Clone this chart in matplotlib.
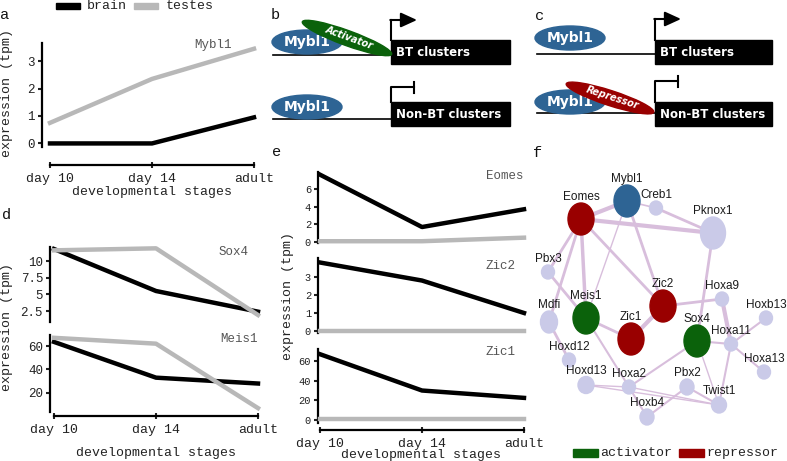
import matplotlib
matplotlib.use('Agg')
import matplotlib.pyplot as plt
from matplotlib.patches import Ellipse, Rectangle, FancyArrowPatch

plt.rcParams['font.family'] = ['Liberation Mono', 'DejaVu Sans Mono']

W, H = 787, 461
BRAIN = '#000000'
TESTES = '#b8b8b8'
BLUE = '#2e6494'
RED = '#990000'
GREEN = '#0b620b'
LAV = '#cacae8'
EDGE = '#d8bedc'

# ---- data ----
stages = ['day 10', 'day 14', 'adult']
mybl1_brain = [0.0, 0.0, 0.95]
mybl1_testes = [0.75, 2.35, 3.45]
sox4_brain = [11.8, 5.5, 2.4]
sox4_testes = [11.6, 11.9, 1.9]
meis1_brain = [63.5, 33, 28]
meis1_testes = [67, 62, 7]
eomes_brain = [7.6, 1.7, 3.7]
eomes_testes = [0.1, 0.1, 0.5]
zic2_brain = [3.8, 2.8, 1.0]
zic2_testes = [0.0, 0.0, 0.0]
zic1_brain = [67, 30, 22.5]
zic1_testes = [0.5, 0.5, 0.5]

tf_nodes = ['Mybl1', 'Eomes', 'Creb1', 'Pknox1', 'Pbx3', 'Mdfi', 'Meis1', 'Zic2',
            'Zic1', 'Hoxa9', 'Hoxb13', 'Sox4', 'Hoxa11', 'Hoxa13', 'Hoxd12',
            'Hoxd13', 'Hoxa2', 'Pbx2', 'Twist1', 'Hoxb4']
tf_kinds = ['seed', 'repressor', 'other', 'other', 'other', 'other', 'activator',
            'repressor', 'repressor', 'other', 'other', 'activator', 'other', 'other',
            'other', 'other', 'other', 'other', 'other', 'other']
tf_edges = [('Eomes', 'Mybl1', 3), ('Eomes', 'Pknox1', 3), ('Mybl1', 'Creb1', 1.2),
            ('Creb1', 'Pknox1', 2), ('Mybl1', 'Meis1', 1), ('Mybl1', 'Zic2', 2),
            ('Eomes', 'Pbx3', 2), ('Eomes', 'Meis1', 2.5), ('Eomes', 'Mdfi', 2),
            ('Eomes', 'Zic2', 2), ('Pbx3', 'Meis1', 2), ('Pknox1', 'Sox4', 2),
            ('Zic2', 'Hoxa9', 2), ('Zic2', 'Zic1', 3), ('Meis1', 'Zic1', 2),
            ('Meis1', 'Hoxa2', 1.5), ('Mdfi', 'Hoxd12', 2), ('Hoxd13', 'Hoxa2', 1),
            ('Hoxd13', 'Twist1', 1), ('Hoxa2', 'Sox4', 1.5), ('Hoxa2', 'Twist1', 1),
            ('Hoxa2', 'Hoxb4', 1.5), ('Hoxb4', 'Pbx2', 1.5), ('Pbx2', 'Twist1', 1.5),
            ('Sox4', 'Hoxa11', 1.5), ('Sox4', 'Twist1', 1), ('Hoxa9', 'Hoxa11', 3),
            ('Hoxa11', 'Hoxb13', 1.5), ('Hoxa11', 'Hoxa13', 1.5), ('Hoxa11', 'Twist1', 1.5)]

# network layout (pixel positions) and node sizes
layout = {'Mybl1': (627, 201), 'Eomes': (581, 219), 'Creb1': (656, 208),
          'Pknox1': (713, 233), 'Pbx3': (548, 272), 'Mdfi': (549, 322),
          'Meis1': (586, 318), 'Zic2': (663, 306), 'Zic1': (631, 339),
          'Hoxa9': (722, 299), 'Hoxb13': (766, 318), 'Sox4': (697, 341),
          'Hoxa11': (731, 344), 'Hoxa13': (764, 372), 'Hoxd12': (569, 360),
          'Hoxd13': (586, 385), 'Hoxa2': (629, 387), 'Pbx2': (687, 387),
          'Twist1': (719, 405), 'Hoxb4': (647, 417)}
big = (26, 32)
node_size = {'Pknox1': (25, 32), 'Mdfi': (17, 22), 'Hoxd13': (16, 17),
             'Twist1': (15, 16), 'Pbx2': (14, 16), 'Hoxb4': (14, 16)}
kind_color = {'seed': BLUE, 'repressor': RED, 'activator': GREEN, 'other': LAV}

fig = plt.figure(figsize=(W / 100, H / 100), dpi=100)


def expr_panel(box, brain, testes, ylim, yticks, ylabels, left_px, bottom_px=None, yfs=9):
    x0, y0, x1, y1 = box
    ax = fig.add_axes([x0 / W, 1 - y1 / H, (x1 - x0) / W, (y1 - y0) / H])
    xs = list(range(len(stages)))
    ax.plot(xs, brain, color=BRAIN, lw=3.2, clip_on=False, zorder=3)
    ax.plot(xs, testes, color=TESTES, lw=3.2, clip_on=False, zorder=4)
    ax.set_xlim(0, len(stages) - 1)
    ax.set_ylim(*ylim)
    ax.patch.set_alpha(0)
    ax.spines['top'].set_visible(False)
    ax.spines['right'].set_visible(False)
    ax.spines['left'].set_position(('outward', left_px * 0.72))
    ax.spines['left'].set_linewidth(1.6)
    ax.set_yticks(yticks)
    ax.set_yticklabels(ylabels)
    ax.tick_params(axis='y', length=3, width=1.5, pad=2, labelsize=yfs, colors='#222222')
    if bottom_px is None:
        ax.spines['bottom'].set_visible(False)
        ax.set_xticks([])
    else:
        ax.spines['bottom'].set_position(('outward', bottom_px * 0.72))
        ax.spines['bottom'].set_linewidth(1.6)
        ax.set_xticks(xs)
        ax.set_xticklabels(stages)
        ax.tick_params(axis='x', length=4, width=1.5, direction='inout',
                       labelsize=9.5, pad=3.5, colors='#222222')
    return ax


# a
expr_panel((50, 43, 254, 147), mybl1_brain, mybl1_testes, (-0.13, 3.66),
           [0, 1, 2, 3], ['0', '1', '2', '3'], 8, 18)
# d
expr_panel((54, 247, 258, 322), sox4_brain, sox4_testes, (0.85, 12.1),
           [2.5, 5, 7.5, 10], ['2.5', '5', '7.5', '10'], 4)
expr_panel((54, 335, 258, 412), meis1_brain, meis1_testes, (3.7, 69.4),
           [20, 40, 60], ['20', '40', '60'], 4, 4)
# e
expr_panel((320, 172, 524, 243), eomes_brain, eomes_testes, (-0.1, 7.9),
           [0, 2, 4, 6], ['0', '2', '4', '6'], 2, yfs=7.5)
expr_panel((320, 258, 524, 333), zic2_brain, zic2_testes, (-0.11, 4.05),
           [0, 1, 2, 3], ['0', '1', '2', '3'], 2, yfs=7.5)
expr_panel((320, 349, 524, 423), zic1_brain, zic1_testes, (-3.1, 72.3),
           [0, 20, 40, 60], ['0', '20', '40', '60'], 2, 7, yfs=7.5)

# overlay in pixel coordinates
ov = fig.add_axes([0, 0, 1, 1])
ov.set_xlim(0, W)
ov.set_ylim(H, 0)
ov.axis('off')

txt = dict(color='#222222', fontsize=9.5, va='center')
# panel letters
for lab, (x, y) in {'a': (5, 15), 'b': (275, 15), 'c': (540, 16),
                    'd': (7, 215), 'e': (277, 152), 'f': (538, 153)}.items():
    ov.text(x, y, lab, fontsize=11, ha='center', va='center', color='#111111')

# axis titles
ov.text(7, 93, 'expression (tpm)', rotation=90, ha='center', **txt)
ov.text(7, 327, 'expression (tpm)', rotation=90, ha='center', **txt)
ov.text(288, 296, 'expression (tpm)', rotation=90, ha='center', **txt)
ov.text(152, 192, 'developmental stages', ha='center', **txt)
ov.text(156, 453, 'developmental stages', ha='center', **txt)
ov.text(421, 455, 'developmental stages', ha='center', **txt)

# gene names
gname = dict(color='#555555', fontsize=9, va='center', ha='left')
ov.text(194, 45, 'Mybl1', **gname)
ov.text(219, 252, 'Sox4', **gname)
ov.text(220, 339, 'Meis1', **gname)
ov.text(486, 176, 'Eomes', **gname)
ov.text(486, 266, 'Zic2', **gname)
ov.text(486, 352, 'Zic1', **gname)

# top legend
ov.add_patch(Rectangle((56, 3), 24, 6, color=BRAIN))
ov.text(87, 6, 'brain', **txt)
ov.add_patch(Rectangle((134, 3), 24, 6, color=TESTES))
ov.text(166, 6, 'testes', **txt)


# b and c diagrams
def promoter(x_tss, y_base, x_left, y_box, x_box_end, label, active, rise):
    ov.plot([x_left, x_tss], [y_base, y_base], color='black', lw=1.2, zorder=1)
    ov.add_patch(Rectangle((x_tss, y_box), x_box_end - x_tss, 24, color='black', zorder=2))
    ov.text(x_tss + 5, y_box + 12, label, color='white', fontsize=8.5,
            fontweight='bold', family='DejaVu Sans', va='center', zorder=3)
    top = y_box - rise
    if active:
        ov.plot([x_tss, x_tss], [y_box, top], color='black', lw=1.5)
        ov.add_patch(FancyArrowPatch((x_tss - 0.7, top), (x_tss + 26, top),
                                     arrowstyle='-|>,head_length=0.7,head_width=0.32',
                                     mutation_scale=14, color='black', lw=1.5,
                                     shrinkA=0, shrinkB=0))
    else:
        ov.plot([x_tss, x_tss, x_tss + 23], [y_box, top, top], color='black', lw=1.5)
        ov.plot([x_tss + 23, x_tss + 23], [top - 5, top + 6], color='black', lw=1.5)


def mybl1_oval(x, y):
    ov.add_patch(Ellipse((x, y), 70, 24, color=BLUE, zorder=4))
    ov.text(x, y, 'Mybl1', color='white', fontsize=10, fontweight='bold',
            family='DejaVu Sans', ha='center', va='center', zorder=5)


def cofactor(x, y, length, angle, color, label):
    ov.add_patch(Ellipse((x, y), length, 15, angle=angle, color=color, zorder=6))
    ov.text(x + 2, y, label, color='white', fontsize=7, fontweight='bold',
            fontstyle='italic', family='DejaVu Sans', rotation=-angle,
            ha='center', va='center', rotation_mode='anchor', zorder=7)


promoter(391, 55, 273, 40, 510, 'BT clusters', True, 20)
promoter(391, 119, 273, 102, 510, 'Non-BT clusters', False, 15)
mybl1_oval(307, 42)
mybl1_oval(307, 107)
cofactor(347, 38, 95, 20, GREEN, 'Activator')

promoter(655, 54, 537, 40, 772, 'BT clusters', True, 21)
promoter(655, 113, 537, 102, 772, 'Non-BT clusters', False, 21)
mybl1_oval(570, 38)
mybl1_oval(570, 102)
cofactor(610, 98, 92, 18, RED, 'Repressor')

# f network
for a, b, w in tf_edges:
    (xa, ya), (xb, yb) = layout[a], layout[b]
    ov.plot([xa, xb], [ya, yb], color=EDGE, lw=w, zorder=1, solid_capstyle='round')
for name, kind in zip(tf_nodes, tf_kinds):
    x, y = layout[name]
    w, h = big if kind != 'other' else node_size.get(name, (13, 14))
    ov.add_patch(Ellipse((x, y), w, h, color=kind_color[kind], zorder=2))
    ov.text(x, y - h / 2 - 6, name, family='Liberation Sans', fontsize=8.5,
            color='#1a1a1a', ha='center', va='center', zorder=3)

ov.add_patch(Rectangle((573, 449), 25, 8, color=GREEN))
ov.text(600, 453, 'activator', **txt)
ov.add_patch(Rectangle((679, 449), 25, 8, color=RED))
ov.text(706, 453, 'repressor', **txt)

fig.savefig('out.png', dpi=100)
